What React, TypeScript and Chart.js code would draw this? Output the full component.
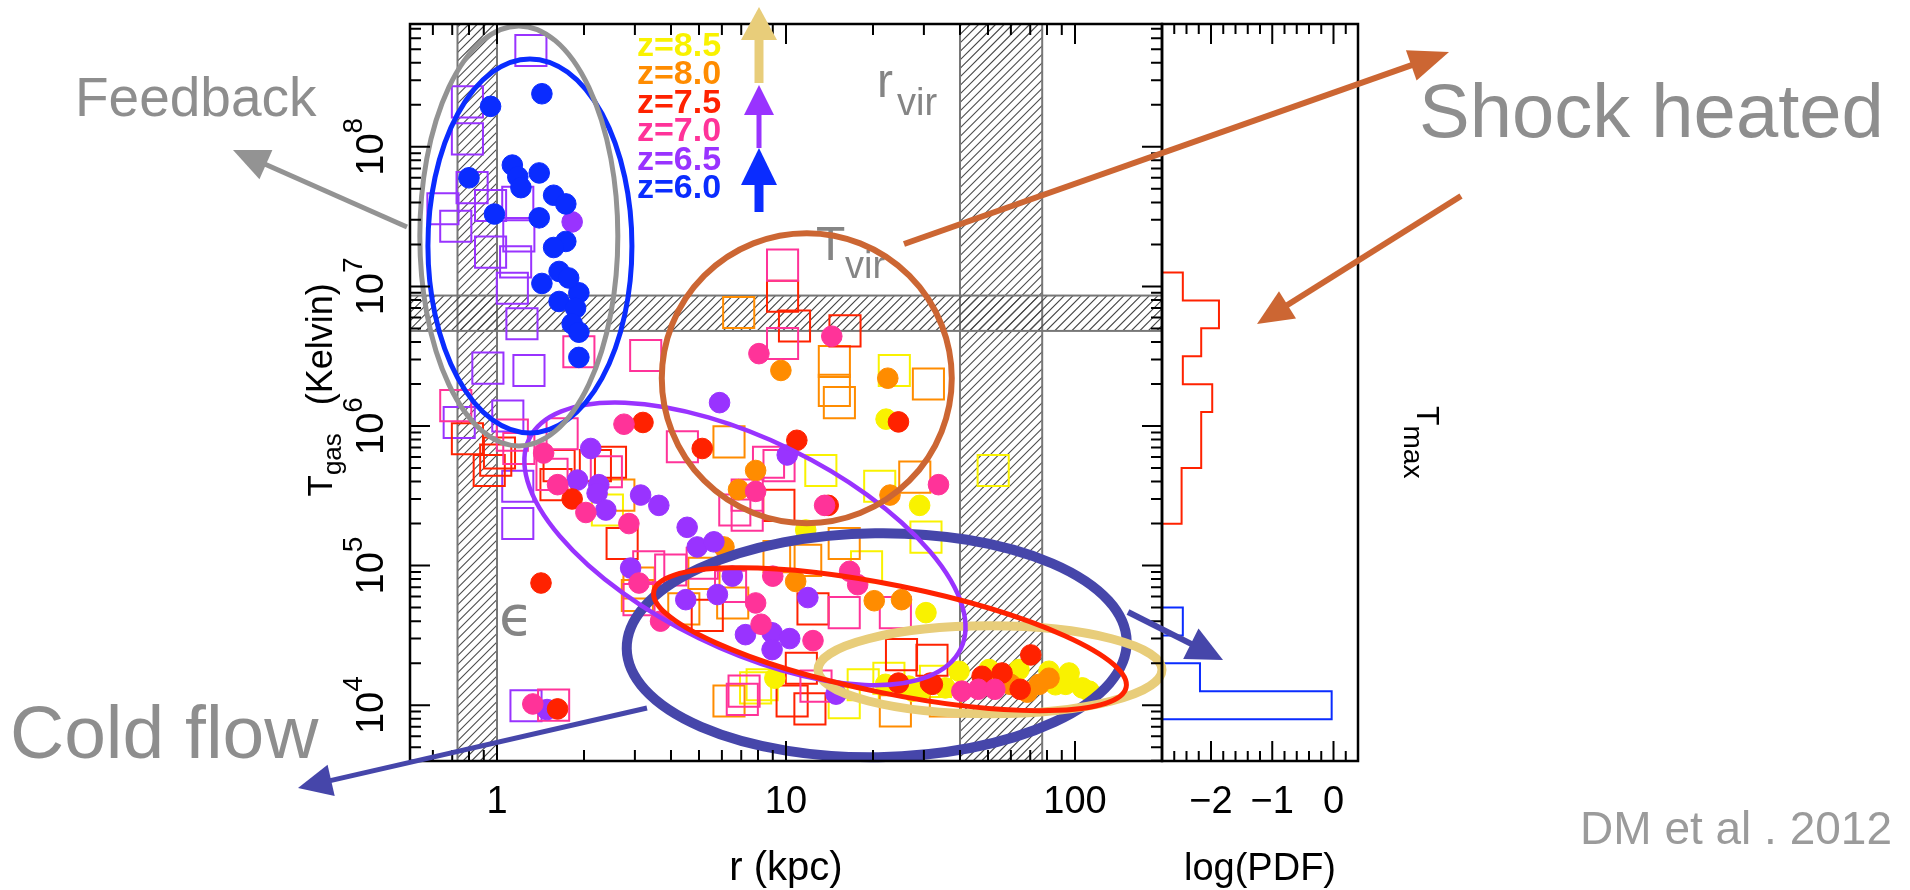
import React, { useEffect, useRef } from "react";
import { Chart, registerables } from "chart.js";

Chart.register(...registerables);

type Pt = [number, number];

// ---------------- DATA ----------------
const seriesLabels = ["z=8.5", "z=8.0", "z=7.5", "z=7.0", "z=6.5", "z=6.0"];
const seriesColors = ["#f9f200", "#ff8c00", "#ff2200", "#ff3399", "#9933ff", "#0a2cff"];

// filled circles: [r (kpc), T_gas (K)]
const circlesZ85: Pt[] = [
  [22.2, 1.12e6], [29.0, 2.7e5], [30.5, 4.6e4], [11.7, 1.8e5], [9.15, 1.56e4], [22.1, 1.41e4],
  [27.4, 1.26e4], [29.5, 1.3e4], [35.6, 1.33e4], [85.6, 1.4e4], [92.8, 1.41e4], [106, 1.33e4], [112, 1.26e4],
  [39.7, 1.75e4], [50.4, 1.8e4], [64.0, 1.8e4], [81.3, 1.75e4], [95.4, 1.7e4], [26.6, 1.37e4],
];
const circlesZ80: Pt[] = [
  [9.6, 2.5e6], [22.5, 2.2e6], [7.85, 4.8e5], [6.85, 3.5e5], [22.9, 3.2e5], [6.1, 1.36e5],
  [10.8, 7.7e4], [20.2, 5.6e4], [25.1, 5.7e4], [59.8, 1.41e4], [75.2, 1.41e4], [68.4, 1.24e4],
  [81.3, 1.56e4],
];
const circlesZ75: Pt[] = [
  [3.2, 1.06e6], [5.13, 6.9e5], [10.9, 7.9e5], [24.5, 1.07e6], [14.0, 2.7e5], [1.82, 3.0e5],
  [1.42, 7.5e4], [1.62, 9.4e3], [70.3, 2.29e4], [24.5, 1.44e4], [32.1, 1.41e4], [47.7, 1.61e4],
  [55.9, 1.7e4], [64.6, 1.3e4], [31.6, 1.44e4],
];
const circlesZ70: Pt[] = [
  [1.45, 6.4e5], [1.62, 3.8e5], [2.03, 2.4e5], [2.86, 2.0e5], [3.1, 7.5e4], [3.68, 4.0e4],
  [2.75, 1.03e6], [8.06, 3.3e6], [14.4, 4.4e6], [33.7, 3.8e5], [7.85, 3.4e5], [9.0, 8.4e4],
  [16.6, 9.1e4], [17.7, 7.3e4], [7.85, 5.4e4], [8.2, 3.8e4], [12.4, 2.9e4], [1.33, 1.02e4],
  [40.6, 1.26e4], [46.3, 1.3e4], [52.8, 1.3e4], [13.6, 2.7e5],
];
const circlesZ65: Pt[] = [
  [1.82, 2.9e7], [2.11, 6.9e5], [1.9, 4.1e5], [2.25, 3.8e5], [2.22, 3.3e5], [2.38, 2.5e5],
  [3.14, 3.2e5], [3.63, 2.7e5], [4.55, 1.88e5], [4.93, 1.36e5], [5.63, 1.48e5], [2.9, 9.6e4],
  [4.5, 5.7e4], [5.79, 6.2e4], [6.52, 8.4e4], [7.24, 3.2e4], [8.95, 3.3e4], [8.95, 2.5e4],
  [10.1, 6.2e5], [5.89, 1.47e6], [11.9, 5.9e4], [10.3, 3.0e4], [14.9, 1.2e4], [1.49, 9.3e3],
];
const circlesZ60: Pt[] = [
  [1.43, 2.4e8], [0.95, 1.95e8], [1.13, 7.4e7], [1.4, 6.5e7], [0.8, 6.0e7], [1.18, 6.1e7],
  [1.21, 5.1e7], [1.57, 4.5e7], [1.73, 3.9e7], [0.98, 3.3e7], [1.4, 3.1e7], [1.73, 2.1e7],
  [1.57, 1.9e7], [1.64, 1.28e7], [1.43, 1.05e7], [1.92, 9.0e6], [1.64, 7.8e6], [1.87, 7.0e6],
  [1.82, 5.4e6], [1.92, 4.7e6], [1.92, 3.1e6], [1.77, 1.15e7],
];

// open squares: [r (kpc), T_max (K)]
const squaresZ85: Pt[] = [
  [23.7, 2.5e6], [52.1, 4.8e5], [13.2, 4.8e5], [21.1, 3.7e5], [30.5, 1.6e5], [2.41, 2.5e5],
  [19.0, 9.8e4], [7.85, 1.33e4], [8.27, 1.4e4], [18.5, 1.4e4], [15.9, 1.04e4], [32.9, 1.48e4], [22.7, 1.56e4],
];
const squaresZ80: Pt[] = [
  [6.86, 6.5e6], [14.7, 2.9e6], [14.7, 1.8e6], [15.3, 1.47e6], [31.1, 2.0e6], [6.35, 7.7e5],
  [27.9, 4.3e5], [2.64, 3.2e5], [3.1, 7.5e4], [5.2, 8.8e4], [4.43, 4.9e4], [9.46, 1.16e5],
  [11.7, 1.09e5], [3.06, 6.1e4], [6.54, 5.4e4], [15.9, 1.44e5], [6.35, 1.07e4], [23.9, 9.1e3], [35.6, 1.07e4],
];
const squaresZ75: Pt[] = [
  [9.73, 8.5e6], [10.7, 5.2e6], [16.0, 4.8e6], [0.79, 8.1e5], [1.02, 6.4e5], [0.99, 5.7e5],
  [0.94, 4.8e5], [1.64, 5.2e5], [2.19, 5.2e5], [1.6, 3.8e5], [2.71, 1.44e5], [9.45, 2.7e5],
  [5.34, 4.4e4], [2.47, 5.5e5], [12.4, 4.9e4], [12.1, 9.4e3], [11.3, 1.84e4], [25.1, 2.3e4],
  [10.5, 1.07e4], [32.0, 2.1e4],
];
const squaresZ70: Pt[] = [
  [0.72, 1.4e6], [1.13, 8.6e5], [1.92, 3.4e6], [3.27, 3.2e6], [9.73, 1.42e7], [9.73, 3.9e6],
  [1.68, 8.8e5], [1.19, 6.9e5], [1.55, 4.5e5], [4.38, 7.1e5], [7.34, 3.2e5], [8.7, 5.5e5],
  [7.34, 2.3e5], [9.46, 5.2e5], [6.65, 2.5e5], [2.39, 4.7e5], [3.35, 9.8e4], [5.13, 1.04e5],
  [3.99, 9.3e4], [6.43, 7.1e4], [3.1, 5.7e4], [15.9, 4.6e4], [7.16, 1.26e4], [7.06, 1.1e4],
  [12.7, 1.37e4], [1.57, 1.0e4], [23.9, 4.6e4],
];
const squaresZ65: Pt[] = [
  [1.31, 4.9e8], [0.79, 2.1e8], [0.79, 1.14e8], [0.82, 5.1e7], [0.65, 3.6e7], [0.72, 2.7e7],
  [0.95, 3.8e7], [1.18, 4.0e7], [1.19, 2.3e7], [0.95, 1.76e7], [1.16, 1.5e7], [1.13, 9.7e6],
  [1.22, 5.4e6], [0.93, 2.6e6], [1.29, 2.5e6], [0.74, 1.06e6], [1.09, 1.18e6], [1.18, 3.7e5],
  [1.18, 2.0e5], [1.26, 9.9e3],
];

// T_max histogram: bin edges in log10 T (top -> bottom) and log10 PDF per bin
const hotBinEdges = [7.1, 6.9, 6.7, 6.5, 6.3, 6.1, 5.9, 5.7, 5.5, 5.3];
const hotBinLogPdf = [-2.46, -1.87, -2.16, -2.46, -1.98, -2.16, -2.16, -2.48, -2.48];
const coldBinEdges = [4.7, 4.5, 4.3, 4.1, 3.9];
const coldBinLogPdf = [-2.46, -2.8, -2.18, -0.03];

// axes
const rMin = 0.5, rMax = 200;
const tMin = Math.pow(10, 3.6), tMax = Math.pow(10, 8.88);
const pdfMin = -2.8, pdfMax = 0.4;
const rTickLabels = [1, 10, 100];
const pdfTickLabels = [-2, -1, 0];
const tempTickExponents = [4, 5, 6, 7, 8];

// reference bands
const softeningBand: Pt = [0.73, 1.0];     // kpc
const virialRadiusBand: Pt = [40, 77];     // kpc
const virialTempBand: Pt = [4.8e6, 8.6e6]; // K

// ---------------- LAYOUT / STYLE ----------------
const W = 1910, H = 890;
const PAD = { left: 410, top: 10, right: 552, bottom: 129 };
const MAIN_WEIGHT = 752, HIST_WEIGHT = 196;
const FONT = '"Liberation Sans", Arial, Helvetica, sans-serif';
const GRAY = "#8e8e8e";

// region ellipses: centre in data units, radii in px, rotation in deg
const regionEllipses = [
  { r: 20.6, T: 2.69e4, rx: 250, ry: 112, rot: -0.8, color: "#4646aa", width: 10 },
  { r: 50.8, T: 1.79e4, rx: 172, ry: 44, rot: 0, color: "#e8cd7a", width: 9 },
  { r: 7.21, T: 1.43e5, rx: 240, ry: 105, rot: 26, color: "#9933ff", width: 4.5 },
  { r: 22.9, T: 2.97e4, rx: 241, ry: 54, rot: 11.5, color: "#ff2200", width: 5 },
  { r: 11.8, T: 2.2e6, rx: 145, ry: 145, rot: 0, color: "#cc6633", width: 6 },
  { r: 1.30, T: 1.95e7, rx: 102, ry: 187, rot: 0, color: "#0a2cff", width: 5 },
  { r: 1.19, T: 2.3e7, rx: 99, ry: 210, rot: 0, color: "#939393", width: 5 },
];

const annotationArrows = [
  { from: [407, 227], to: [233, 150], color: "#939393", width: 5, head: 36, headW: 32 },
  { from: [904, 244], to: [1449, 52], color: "#cc6633", width: 6, head: 40, headW: 32 },
  { from: [1461, 196], to: [1257, 324], color: "#cc6633", width: 6, head: 36, headW: 32 },
  { from: [647, 708], to: [298, 788], color: "#4646aa", width: 5, head: 34, headW: 32 },
  { from: [1128, 612], to: [1223, 660], color: "#4646aa", width: 6, head: 36, headW: 34 },
];

const annotationTexts = [
  { text: "Feedback", x: 75, y: 116, size: 55, color: GRAY, align: "left" },
  { text: "Shock heated", x: 1419, y: 137, size: 76, color: GRAY, align: "left" },
  { text: "Cold flow", x: 10, y: 758, size: 75, color: GRAY, align: "left" },
  { text: "DM et al . 2012", x: 1892, y: 844, size: 46, color: "#9b9b9b", align: "right" },
];

const legendArrows = [
  { x: 759, y0: 83, y1: 7, color: "#e8cd7a", width: 9, head: 33, headW: 36 },
  { x: 759, y0: 148, y1: 85, color: "#9933ff", width: 5, head: 30, headW: 30 },
  { x: 759, y0: 212, y1: 148, color: "#0a2cff", width: 9, head: 37, headW: 36 },
];

// ---------------- HELPERS ----------------
function histPolyline(edges: number[], logPdf: number[]) {
  const pts: { x: number; y: number }[] = [{ x: pdfMin, y: Math.pow(10, edges[0]) }];
  for (let i = 0; i < logPdf.length; i++) {
    pts.push({ x: logPdf[i], y: Math.pow(10, edges[i]) });
    pts.push({ x: logPdf[i], y: Math.pow(10, edges[i + 1]) });
  }
  pts.push({ x: pdfMin, y: Math.pow(10, edges[edges.length - 1]) });
  return pts;
}

function logTicks(min: number, max: number) {
  const out: { v: number; major: boolean }[] = [];
  for (let e = Math.floor(Math.log10(min)); e <= Math.ceil(Math.log10(max)); e++) {
    for (let k = 1; k <= 9; k++) {
      const v = k * Math.pow(10, e);
      if (v > min * 1.001 && v < max * 0.999) out.push({ v, major: k === 1 });
    }
  }
  return out;
}

function drawText(ctx: CanvasRenderingContext2D, s: string, x: number, y: number, size: number,
  color: string, align: CanvasTextAlign = "left", weight = "normal", family = FONT) {
  ctx.font = `${weight} ${size}px ${family}`;
  ctx.fillStyle = color;
  ctx.textAlign = align;
  ctx.textBaseline = "alphabetic";
  ctx.fillText(s, x, y);
}

function drawArrow(ctx: CanvasRenderingContext2D, x0: number, y0: number, x1: number, y1: number,
  color: string, width: number, head: number, headW: number) {
  const a = Math.atan2(y1 - y0, x1 - x0);
  const c = Math.cos(a), s = Math.sin(a);
  const bx = x1 - head * c, by = y1 - head * s;
  ctx.strokeStyle = color;
  ctx.lineWidth = width;
  ctx.lineCap = "butt";
  ctx.beginPath();
  ctx.moveTo(x0, y0);
  ctx.lineTo(bx + 2 * c, by + 2 * s);
  ctx.stroke();
  ctx.fillStyle = color;
  ctx.beginPath();
  ctx.moveTo(x1, y1);
  ctx.lineTo(bx + (headW / 2) * s, by - (headW / 2) * c);
  ctx.lineTo(bx - (headW / 2) * s, by + (headW / 2) * c);
  ctx.closePath();
  ctx.fill();
}

function hatchRect(ctx: CanvasRenderingContext2D, x0: number, y0: number, x1: number, y1: number) {
  ctx.save();
  ctx.beginPath();
  ctx.rect(x0, y0, x1 - x0, y1 - y0);
  ctx.clip();
  ctx.strokeStyle = "#4a4a4a";
  ctx.lineWidth = 1.2;
  ctx.beginPath();
  const step = 8.5;
  const start = Math.floor((x0 + y0) / step) * step;
  for (let c = start; c <= x1 + y1 + step; c += step) {
    ctx.moveTo(c - y1, y1);
    ctx.lineTo(c - y0, y0);
  }
  ctx.stroke();
  ctx.restore();
  ctx.strokeStyle = "#777777";
  ctx.lineWidth = 2;
  ctx.strokeRect(x0, y0, x1 - x0, y1 - y0);
}

const figurePlugin = {
  id: "figureDecor",
  beforeDatasetsDraw(chart: any) {
    const { ctx, chartArea: ca } = chart;
    const xs = chart.scales.x, ys = chart.scales.y;
    ctx.save();
    ctx.fillStyle = "#ffffff";
    ctx.fillRect(0, 0, W, H);
    const top = ca.top, bottom = ca.bottom;
    hatchRect(ctx, xs.getPixelForValue(softeningBand[0]), top, xs.getPixelForValue(softeningBand[1]), bottom);
    hatchRect(ctx, xs.getPixelForValue(virialRadiusBand[0]), top, xs.getPixelForValue(virialRadiusBand[1]), bottom);
    hatchRect(ctx, xs.left, ys.getPixelForValue(virialTempBand[1]), xs.right, ys.getPixelForValue(virialTempBand[0]));
    // in-plot labels
    const lg = "#858585";
    drawText(ctx, "r", 877, 97, 48, lg);
    drawText(ctx, "vir", 897, 115, 38, lg);
    drawText(ctx, "T", 816, 260, 48, lg);
    drawText(ctx, "vir", 845, 278, 38, lg);
    drawText(ctx, "\u03f5", 499, 635, 56, lg, "left", "normal", '"DejaVu Sans", sans-serif');
    ctx.restore();
  },
  afterDatasetsDraw(chart: any) {
    const { ctx, chartArea: ca } = chart;
    const xs = chart.scales.x, x2 = chart.scales.x2, ys = chart.scales.y;
    const top = ca.top, bottom = ca.bottom;
    const mL = xs.left, mR = xs.right, hL = x2.left, hR = x2.right;
    ctx.save();

    // region ellipses
    for (const e of regionEllipses) {
      const cx = xs.getPixelForValue(e.r), cy = ys.getPixelForValue(e.T);
      ctx.beginPath();
      ctx.ellipse(cx, cy, e.rx, e.ry, (e.rot * Math.PI) / 180, 0, 2 * Math.PI);
      ctx.strokeStyle = e.color;
      ctx.lineWidth = e.width;
      ctx.stroke();
    }

    // ticks
    ctx.strokeStyle = "#000";
    ctx.lineWidth = 2;
    ctx.beginPath();
    for (const t of logTicks(rMin, rMax)) {
      const px = xs.getPixelForValue(t.v), len = t.major ? 20 : 11;
      ctx.moveTo(px, bottom); ctx.lineTo(px, bottom - len);
      ctx.moveTo(px, top); ctx.lineTo(px, top + len);
    }
    for (const t of logTicks(tMin, tMax)) {
      const py = ys.getPixelForValue(t.v), len = t.major ? 20 : 11;
      ctx.moveTo(mL, py); ctx.lineTo(mL + len, py);
      ctx.moveTo(mR, py); ctx.lineTo(mR - len, py);
    }
    for (let i = Math.round(pdfMin * 5) + 1; i < Math.round(pdfMax * 5); i++) {
      const px = x2.getPixelForValue(i / 5), len = i % 5 === 0 ? 20 : 10;
      ctx.moveTo(px, bottom); ctx.lineTo(px, bottom - len);
      ctx.moveTo(px, top); ctx.lineTo(px, top + len);
    }
    ctx.stroke();

    // frames
    ctx.lineWidth = 2.5;
    ctx.strokeRect(mL, top, mR - mL, bottom - top);
    ctx.strokeRect(hL, top, hR - hL, bottom - top);

    // x tick labels
    for (const v of rTickLabels) drawText(ctx, String(v), xs.getPixelForValue(v), bottom + 52, 38, "#000", "center");
    for (const v of pdfTickLabels) {
      const s = v < 0 ? "\u2212" + Math.abs(v) : String(v);
      drawText(ctx, s, x2.getPixelForValue(v), bottom + 52, 38, "#000", "center");
    }
    // axis titles
    drawText(ctx, "r (kpc)", (mL + mR) / 2, bottom + 119, 40, "#000", "center");
    drawText(ctx, "log(PDF)", (hL + hR) / 2, bottom + 119, 38, "#000", "center");

    // y tick labels 10^n (rotated)
    for (const e of tempTickExponents) {
      const py = ys.getPixelForValue(Math.pow(10, e));
      ctx.save();
      ctx.translate(mL - 27, py);
      ctx.rotate(-Math.PI / 2);
      ctx.font = `38px ${FONT}`;
      const w1 = ctx.measureText("10").width;
      ctx.font = `28px ${FONT}`;
      const w2 = ctx.measureText(String(e)).width;
      const x0 = -(w1 + w2) / 2;
      drawText(ctx, "10", x0, 0, 38, "#000");
      drawText(ctx, String(e), x0 + w1, -21, 28, "#000");
      ctx.restore();
    }

    // y title: T_gas (Kelvin)
    ctx.save();
    ctx.translate(mL - 78, (top + bottom) / 2 + 104);
    ctx.rotate(-Math.PI / 2);
    ctx.font = `35px ${FONT}`;
    const wT = ctx.measureText("T").width;
    ctx.font = `26px ${FONT}`;
    const wg = ctx.measureText("gas").width;
    drawText(ctx, "T", 0, 0, 35, "#000");
    drawText(ctx, "gas", wT, 9, 26, "#000");
    drawText(ctx, "(Kelvin)", wT + wg + 28, 0, 36, "#000");
    ctx.restore();

    // right label: T_max
    ctx.save();
    ctx.translate(hR + 59, top + 382);
    ctx.rotate(Math.PI / 2);
    ctx.font = `32px ${FONT}`;
    const wT2 = ctx.measureText("T").width;
    drawText(ctx, "T", 0, 0, 32, "#000");
    drawText(ctx, "max", wT2, 13, 28, "#000");
    ctx.restore();

    // legend
    for (let i = 0; i < seriesLabels.length; i++) {
      drawText(ctx, seriesLabels[i], 637, 56 + 28.4 * i, 34, seriesColors[i], "left", "bold");
    }
    for (const a of legendArrows) drawArrow(ctx, a.x, a.y0, a.x, a.y1, a.color, a.width, a.head, a.headW);

    // annotation arrows and texts
    for (const a of annotationArrows) drawArrow(ctx, a.from[0], a.from[1], a.to[0], a.to[1], a.color, a.width, a.head, a.headW);
    for (const t of annotationTexts) drawText(ctx, t.text, t.x, t.y, t.size, t.color, t.align as CanvasTextAlign);

    ctx.restore();
  },
};

function buildConfig(): any {
  const circle = (pts: Pt[], ci: number) => ({
    type: "scatter",
    label: seriesLabels[ci],
    data: pts.map(([x, y]) => ({ x, y })),
    xAxisID: "x", yAxisID: "y",
    pointStyle: "circle",
    pointRadius: 10.3,
    borderWidth: 1,
    backgroundColor: seriesColors[ci],
    borderColor: seriesColors[ci],
  });
  const square = (pts: Pt[], ci: number) => ({
    type: "scatter",
    label: seriesLabels[ci] + " max",
    data: pts.map(([x, y]) => ({ x, y })),
    xAxisID: "x", yAxisID: "y",
    pointStyle: "rect",
    pointRadius: 22,
    borderWidth: 2,
    backgroundColor: "rgba(0,0,0,0)",
    borderColor: seriesColors[ci],
  });
  const hist = (edges: number[], vals: number[], color: string) => ({
    type: "line",
    data: histPolyline(edges, vals),
    xAxisID: "x2", yAxisID: "y",
    borderColor: color,
    borderWidth: 2,
    pointRadius: 0,
    fill: false,
    tension: 0,
  });
  const datasets = [
    circle(circlesZ70, 3), circle(circlesZ75, 2), circle(circlesZ60, 5), circle(circlesZ65, 4),
    circle(circlesZ80, 1), circle(circlesZ85, 0),
    square(squaresZ70, 3), square(squaresZ75, 2), square(squaresZ65, 4), square(squaresZ80, 1), square(squaresZ85, 0),
    hist(hotBinEdges, hotBinLogPdf, "#ff2200"),
    hist(coldBinEdges, coldBinLogPdf, "#0a2cff"),
  ];
  return {
    type: "scatter",
    data: { datasets },
    options: {
      responsive: false,
      maintainAspectRatio: false,
      animation: false,
      devicePixelRatio: 1,
      events: [],
      layout: { padding: PAD },
      plugins: { legend: { display: false }, tooltip: { enabled: false }, title: { display: false } },
      scales: {
        x: { type: "logarithmic", position: "bottom", min: rMin, max: rMax, bounds: "data", display: false, stack: "panels", stackWeight: MAIN_WEIGHT },
        x2: { type: "linear", position: "bottom", min: pdfMin, max: pdfMax, bounds: "data", display: false, stack: "panels", stackWeight: HIST_WEIGHT },
        y: { type: "logarithmic", position: "left", min: tMin, max: tMax, bounds: "data", display: false },
      },
    },
    plugins: [figurePlugin],
  };
}

export default function App() {
  const ref = useRef<HTMLCanvasElement | null>(null);
  useEffect(() => {
    const canvas = ref.current;
    if (!canvas) return;
    const chart = new Chart(canvas, buildConfig());
    return () => chart.destroy();
  }, []);
  return (
    <div style={{ position: "absolute", left: 0, top: 0, width: W, height: H, background: "#fff" }}>
      <canvas ref={ref} width={W} height={H} style={{ display: "block", width: W, height: H }} />
    </div>
  );
}
